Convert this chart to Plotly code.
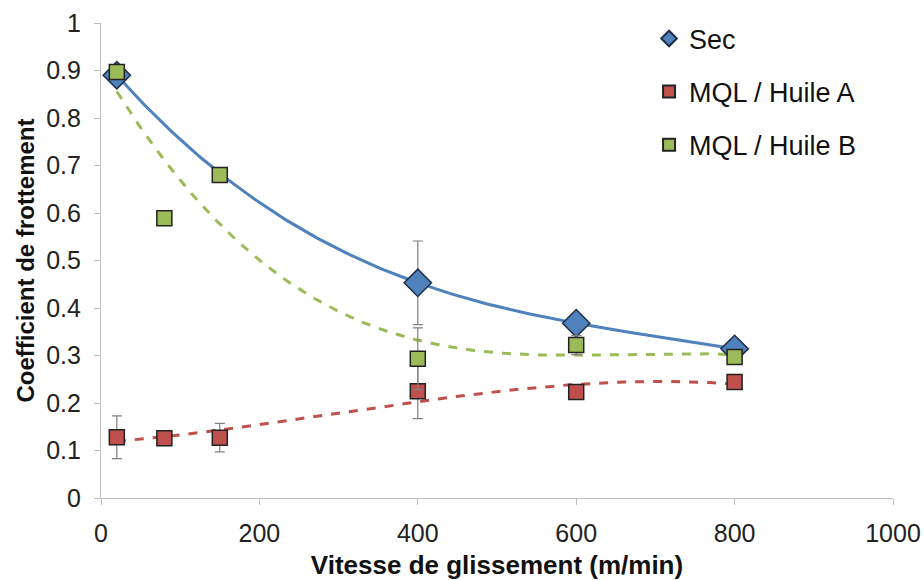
import numpy as np
import plotly.graph_objects as go

# Data
x_sec = [20, 400, 600, 800]
y_sec = [0.89, 0.453, 0.368, 0.314]
e_sec = [0.0, 0.088, 0.01, 0.008]

x_a = [20, 80, 150, 400, 600, 800]
y_a = [0.128, 0.126, 0.127, 0.225, 0.223, 0.244]
e_a = [0.045, 0.005, 0.03, 0.058, 0.01, 0.01]

x_b = [20, 80, 150, 400, 600, 800]
y_b = [0.897, 0.589, 0.68, 0.293, 0.322, 0.297]
e_b = [0.0, 0.0, 0.0, 0.065, 0.02, 0.012]

names = ["Sec", "MQL / Huile A", "MQL / Huile B"]
x_ticks = [0, 200, 400, 600, 800, 1000]
y_ticks = [0, 0.1, 0.2, 0.3, 0.4, 0.5, 0.6, 0.7, 0.8, 0.9, 1]

BLUE, RED, GREEN = "#4F81BD", "#C0504D", "#9BBB59"
FONT = "Liberation Sans, Arial, sans-serif"

fig = go.Figure()

def trend(xs, ys, deg):
    c = np.polyfit(xs, ys, deg)
    xx = np.linspace(min(xs), max(xs), 200)
    return xx, np.polyval(c, xx)

# trend curves
xx, yy = trend(x_sec, y_sec, 3)
fig.add_trace(go.Scatter(x=xx, y=yy, mode="lines", line=dict(color=BLUE, width=3), showlegend=False, hoverinfo="skip"))
xx, yy = trend(x_b, y_b, 3)
fig.add_trace(go.Scatter(x=xx, y=yy, mode="lines", line=dict(color=GREEN, width=3, dash="dash"), showlegend=False, hoverinfo="skip"))
xx, yy = trend(x_a, y_a, 3)
fig.add_trace(go.Scatter(x=xx, y=yy, mode="lines", line=dict(color=RED, width=3, dash="dash"), showlegend=False, hoverinfo="skip"))

err_style = dict(type="data", color="#7f7f7f", thickness=1.2, width=5)

fig.add_trace(go.Scatter(x=x_sec, y=y_sec, mode="markers", name=names[0], legendgroup="a",
                         error_y=dict(array=e_sec, **err_style),
                         marker=dict(symbol="diamond", size=21, color=BLUE, line=dict(color="#1f2f4a", width=1.5))))
fig.add_trace(go.Scatter(x=x_a, y=y_a, mode="markers", name=names[1], legendgroup="b",
                         error_y=dict(array=e_a, **err_style),
                         marker=dict(symbol="square", size=15, color=RED, line=dict(color="#222", width=1.5))))
fig.add_trace(go.Scatter(x=x_b, y=y_b, mode="markers", name=names[2], legendgroup="c",
                         error_y=dict(array=e_b, **err_style),
                         marker=dict(symbol="square", size=15, color=GREEN, line=dict(color="#222", width=1.5))))

fig.update_layout(
    width=924, height=580,
    margin=dict(l=101, r=31, t=23, b=82, autoexpand=False),
    paper_bgcolor="white", plot_bgcolor="white",
    font=dict(family=FONT, size=25, color="#222"),
    legend=dict(x=0.692, y=1.018, xanchor="left", yanchor="top", bgcolor="rgba(0,0,0,0)",
                font=dict(size=27, color="#111"), tracegroupgap=15, itemsizing="constant"),
    xaxis=dict(range=[0, 1000], tickvals=x_ticks, showgrid=False, zeroline=False, automargin=False,
               showline=True, linecolor="#bfbfbf", linewidth=1.2, ticks="outside",
               ticklen=6, tickcolor="#bfbfbf", tickfont=dict(size=25), ticklabelstandoff=7,
               title=dict(text="<b>Vitesse de glissement (m/min)</b>", font=dict(size=26, color="#111"), standoff=10)),
    yaxis=dict(range=[0, 1], tickvals=y_ticks, ticktext=[f"{v:g}" for v in y_ticks], showgrid=False, zeroline=False,
               automargin=False,
               showline=True, linecolor="#bfbfbf", linewidth=1.2, ticks="outside",
               ticklen=6, tickcolor="#bfbfbf", tickfont=dict(size=25), ticklabelstandoff=8,
               title=dict(text="<b>Coefficient de frottement</b>", font=dict(size=24, color="#111"), standoff=4)),
)

fig.write_html("out.html")
